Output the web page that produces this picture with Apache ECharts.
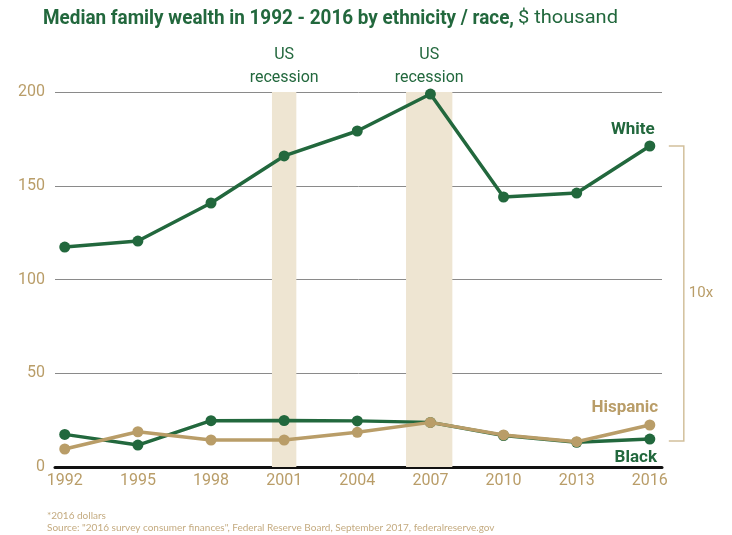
<!DOCTYPE html>
<html>
<head>
<meta charset="utf-8">
<script src="https://cdn.jsdelivr.net/npm/echarts@6/dist/echarts.min.js"></script>
<style>
  html, body { margin: 0; padding: 0; background: #fff; }
  #chart { width: 732px; height: 535px; }
</style>
</head>
<body>
<div id="chart"></div>
<script>
// survey years
var years = [1992, 1995, 1998, 2001, 2004, 2007, 2010, 2013, 2016];
// median family wealth, $ thousand (2016 dollars)
var white = [117.3, 120.5, 140.8, 165.9, 179.2, 198.9, 144.0, 146.1, 171.2];
var black = [17.4, 11.7, 24.7, 24.8, 24.6, 23.8, 16.8, 13.2, 14.9];
var hispanic = [9.6, 18.8, 14.4, 14.4, 18.5, 23.8, 17.1, 13.5, 22.4];
// recession periods (start, end) in years
var recessions = [[2000.5, 2001.5], [2006.0, 2007.9]];

var green = '#22683d';
var tan = '#b99d68';

var titleBold = 'Median family wealth in 1992 - 2016 by ethnicity / race,';
var titleRest = '$ thousand';

var chart = echarts.init(document.getElementById('chart'));

function pairs(vals, lastLabel) {
    var out = [];
    for (var i = 0; i < years.length; i++) {
        var item = { value: [years[i], vals[i]] };
        if (i === years.length - 1 && lastLabel) {
            item.label = lastLabel;
        }
        out.push(item);
    }
    return out;
}

// fit the title parts to the widths they take in the original
var boldFont = 'bold 20px Roboto, sans-serif';
var restFont = '19px Roboto, sans-serif';
var ctx = document.createElement('canvas').getContext('2d');
ctx.font = boldFont;
var boldScale = 471 / ctx.measureText(titleBold).width;
ctx.font = restFont;
var restScale = 100 / ctx.measureText(titleRest).width;

var option = {
    backgroundColor: '#fff',
    animation: false,
    grid: { left: 55, right: 70, top: 92, bottom: 68 },
    xAxis: {
        type: 'value',
        min: 1991.6,
        max: 2016.5,
        axisLine: { show: true, lineStyle: { color: '#111', width: 3 } },
        axisTick: { show: false },
        splitLine: { show: false },
        axisLabel: {
            customValues: years,
            color: tan,
            fontFamily: 'Roboto, sans-serif',
            fontSize: 16,
            margin: 6,
            formatter: function (v) { return String(v); }
        }
    },
    yAxis: {
        type: 'value',
        min: 0,
        max: 200,
        interval: 50,
        axisLine: { show: false },
        axisTick: { show: false },
        splitLine: { lineStyle: { color: '#8a8a8a', width: 1 } },
        axisLabel: {
            color: tan,
            fontFamily: 'Roboto, sans-serif',
            fontSize: 16,
            margin: 10
        }
    },
    series: [
        {
            name: 'Recession',
            type: 'line',
            data: [],
            silent: true,
            markArea: {
                silent: true,
                itemStyle: { color: '#eee5d2' },
                label: {
                    show: true,
                    position: 'top',
                    distance: 3,
                    color: green,
                    fontFamily: 'Roboto, sans-serif',
                    fontSize: 16,
                    lineHeight: 23
                },
                data: recessions.map(function (r) {
                    return [{ name: 'US\nrecession', xAxis: r[0] }, { xAxis: r[1] }];
                })
            }
        },
        {
            name: 'White',
            type: 'line',
            z: 3,
            data: pairs(white, {
                show: true, position: 'top', offset: [-17, 3], formatter: 'White',
                color: green, fontWeight: 'bold', fontSize: 17, fontFamily: 'Roboto, sans-serif'
            }),
            symbol: 'circle',
            symbolSize: 11,
            lineStyle: { color: green, width: 3.5 },
            itemStyle: { color: green }
        },
        {
            name: 'Black',
            type: 'line',
            z: 3,
            data: pairs(black, {
                show: true, position: 'bottom', offset: [-14, 0], formatter: 'Black',
                color: green, fontWeight: 'bold', fontSize: 17, fontFamily: 'Roboto, sans-serif'
            }),
            symbol: 'circle',
            symbolSize: 11,
            lineStyle: { color: green, width: 3.5 },
            itemStyle: { color: green }
        },
        {
            name: 'Hispanic',
            type: 'line',
            z: 4,
            data: pairs(hispanic, {
                show: true, position: 'top', offset: [-25, 2], formatter: 'Hispanic',
                color: tan, fontWeight: 'bold', fontSize: 17, fontFamily: 'Roboto, sans-serif'
            }),
            symbol: 'circle',
            symbolSize: 11,
            lineStyle: { color: tan, width: 3.5 },
            itemStyle: { color: tan }
        }
    ]
};

chart.setOption(option);

// 10x bracket from White 2016 down to Black 2016
var last = years.length - 1;
var pTop = chart.convertToPixel({ gridIndex: 0 }, [years[last], white[last]]);
var pBot = chart.convertToPixel({ gridIndex: 0 }, [years[last], black[last] - 1]);
var bx = pTop[0] + 34;
chart.setOption({
    graphic: [
        {
            type: 'text',
            x: 43,
            y: 9,
            scaleX: boldScale,
            style: { text: titleBold, fill: green, font: boldFont }
        },
        {
            type: 'text',
            x: 518,
            y: 9,
            scaleX: restScale,
            style: { text: titleRest, fill: green, font: restFont }
        },
        {
            type: 'polyline',
            shape: { points: [[pTop[0] + 19, pTop[1]], [bx, pTop[1]], [bx, pBot[1]], [pTop[0] + 19, pBot[1]]] },
            style: { stroke: '#d2c09c', lineWidth: 1.5, fill: null }
        },
        {
            type: 'text',
            x: bx + 5,
            y: (pTop[1] + pBot[1]) / 2,
            style: { text: '10x', fill: tan, font: '15px Roboto, sans-serif', verticalAlign: 'middle' }
        },
        {
            type: 'text',
            left: 47,
            top: 511,
            style: { text: '*2016 dollars', fill: '#c4ab80', font: '10px Lato, sans-serif' }
        },
        {
            type: 'text',
            left: 47,
            top: 523,
            style: { text: 'Source: "2016 survey consumer finances", Federal Reserve Board, September 2017, federalreserve.gov', fill: '#c4ab80', font: '10px Lato, sans-serif' }
        }
    ]
});
</script>
</body>
</html>
